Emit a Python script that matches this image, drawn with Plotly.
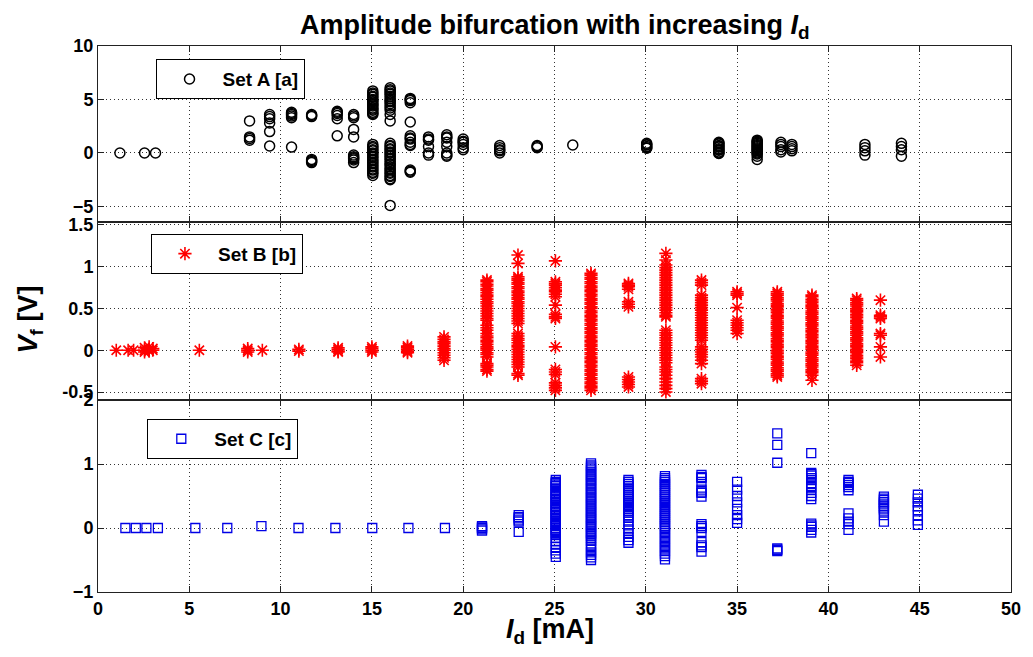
import plotly.graph_objects as go

# ---------------- data ----------------
# Set A : black open circles (top panel)
a_x = [1.2, 2.55, 3.15, 8.3, 9.4, 10.6, 11.7, 13.1, 14.0, 15.05, 16.0, 17.1,
       18.1, 19.1, 20.0, 22.0, 24.05, 26.0, 30.05, 34.0, 36.1, 37.4, 38.0, 42.0, 44.0]
a_y = [
    [0.0],
    [0.0],
    [0.0],
    [3.0, 1.5, 1.35, 1.2],
    [3.6, 3.4, 3.2, 2.8, 2.0, 0.65],
    [3.8, 3.7, 3.6, 3.45, 3.3, 0.55],
    [3.6, 3.5, 3.4, -0.6, -0.7, -0.8, -0.9],
    [3.9, 3.8, 3.7, 3.5, 3.2, 1.6],
    [3.6, 3.45, 3.3, 2.2, 1.5, -0.2, -0.35, -0.45, -0.55, -0.65, -0.9],
    [5.8, 5.6, 5.5, 5.3, 5.2, 5.0, 4.9, 4.8, 4.6, 4.5, 4.4, 4.2, 4.1, 4.0, 3.8, 3.7,
     3.6, 0.8, 0.6, 0.5, 0.3, 0.2, 0.0, -0.1, -0.3, -0.4, -0.6, -0.7, -0.9, -1.0,
     -1.2, -1.3, -1.5, -1.6, -1.8, -1.9, -2.1],
    [6.1, 5.9, 5.8, 5.6, 5.5, 5.3, 5.1, 4.9, 4.8, 4.6, 4.4, 4.2, 4.0, 3.6, 3.0, 0.9,
     0.7, 0.6, 0.4, 0.3, 0.1, 0.0, -0.2, -0.3, -0.5, -0.6, -0.8, -1.0, -1.1, -1.3,
     -1.5, -1.6, -1.8, -1.9, -2.1, -2.2, -2.4, -2.5, -4.9],
    [5.1, 5.0, 4.9, 4.7, 2.9, 1.6, 1.4, 1.3, 1.0, 0.8, 0.7, -1.6, -1.7, -1.8],
    [1.5, 1.3, 1.2, 0.6, 0.0, -0.2],
    [1.7, 1.5, 1.4, 1.0, 0.6, 0.0, -0.2, -0.3],
    [1.3, 1.1, 1.0, 0.8, 0.5, 0.3],
    [0.7, 0.5, 0.3, 0.2, 0.0],
    [0.7, 0.6, 0.5],
    [0.75],
    [0.9, 0.8, 0.75, 0.6, 0.5, 0.45],
    [1.0, 0.9, 0.85, 0.7, 0.6, 0.55, 0.4, 0.3, 0.25, 0.1, 0.0, -0.05],
    [1.2, 1.1, 1.0, 0.9, 0.8, 0.7, 0.6, 0.5, 0.4, 0.3, 0.2, 0.1, 0.0, -0.1, -0.3, -0.6],
    [1.0, 0.8, 0.6, 0.3, 0.1],
    [0.8, 0.6, 0.4, 0.2],
    [0.8, 0.5, 0.2, -0.2],
    [0.9, 0.6, 0.3, -0.3],
]

# Set B : red asterisks (middle panel)
b_x = [1.0, 1.65, 1.95, 2.55, 2.8, 3.0, 5.55, 8.2, 9.0, 11.0, 13.15, 15.0, 16.95,
       18.95, 21.3, 23.0, 25.05, 27.0, 29.05, 31.1, 33.05, 35.0, 37.2, 39.1, 41.55, 42.85]
b_y = [
    [0.0],
    [0.0],
    [0.0],
    [0.03, 0.0, -0.02],
    [0.04, 0.01, -0.01],
    [0.02, 0.0],
    [0.0],
    [0.02, 0.0, -0.02],
    [0.0],
    [0.01, -0.01],
    [0.03, 0.01, -0.01, -0.02],
    [0.04, 0.02, 0.0, -0.02],
    [0.05, 0.03, 0.01, -0.01, -0.03],
    [0.16, 0.13, 0.1, 0.08, 0.05, 0.02, 0.0, -0.03, -0.06, -0.09, -0.12],
    [0.84, 0.82, 0.79, 0.77, 0.74, 0.72, 0.69, 0.66, 0.64, 0.61, 0.58, 0.56, 0.53,
     0.5, 0.47, 0.44, 0.41, 0.38, 0.36, 0.3, 0.27, 0.24, 0.2, 0.17, 0.15, 0.12, 0.1,
     0.07, 0.04, 0.02, 0.0, -0.03, -0.05, -0.08, -0.16, -0.18, -0.2, -0.23, -0.25],
    [1.14, 1.04, 0.88, 0.86, 0.84, 0.81, 0.79, 0.76, 0.74, 0.71, 0.69, 0.66, 0.63,
     0.61, 0.58, 0.56, 0.53, 0.5, 0.47, 0.44, 0.41, 0.38, 0.35, 0.32, 0.2, 0.17, 0.14,
     0.12, 0.09, 0.06, 0.04, 0.01, -0.02, -0.05, -0.08, -0.11, -0.14, -0.17, -0.2,
     -0.28, -0.3],
    [1.07, 0.82, 0.8, 0.78, 0.75, 0.72, 0.7, 0.67, 0.64, 0.54, 0.43, 0.4, 0.38, 0.04,
     -0.23, -0.26, -0.29, -0.39, -0.42, -0.45, -0.48],
    [0.92, 0.9, 0.87, 0.85, 0.82, 0.8, 0.77, 0.75, 0.72, 0.7, 0.67, 0.65, 0.62, 0.6,
     0.57, 0.55, 0.52, 0.5, 0.47, 0.45, 0.42, 0.4, 0.37, 0.35, 0.32, 0.3, 0.27, 0.25,
     0.22, 0.2, 0.17, 0.15, 0.12, 0.1, 0.07, 0.05, 0.02, 0.0, -0.03, -0.05, -0.08,
     -0.1, -0.13, -0.15, -0.18, -0.2, -0.23, -0.25, -0.28, -0.3, -0.33, -0.35, -0.38,
     -0.4, -0.43, -0.45, -0.48],
    [0.8, 0.78, 0.76, 0.73, 0.58, 0.55, 0.52, -0.32, -0.35, -0.38, -0.41, -0.44],
    [1.16, 1.08, 1.02, 0.99, 0.96, 0.93, 0.9, 0.87, 0.84, 0.81, 0.78, 0.75, 0.72,
     0.69, 0.66, 0.63, 0.6, 0.57, 0.54, 0.51, 0.48, 0.45, 0.42, 0.4, 0.24, 0.21, 0.18,
     0.15, 0.12, 0.09, 0.06, 0.03, 0.0, -0.03, -0.06, -0.09, -0.12, -0.15, -0.2,
     -0.23, -0.26, -0.3, -0.34, -0.38, -0.42, -0.46, -0.5],
    [0.84, 0.81, 0.78, 0.66, 0.63, 0.6, 0.57, 0.54, 0.51, 0.48, 0.45, 0.42, 0.39,
     0.36, 0.33, 0.3, 0.27, 0.24, 0.21, 0.18, 0.15, 0.12, 0.04, 0.01, -0.02, -0.05,
     -0.08, -0.12, -0.16, -0.34, -0.37, -0.4],
    [0.7, 0.68, 0.66, 0.51, 0.36, 0.33, 0.3, 0.27, 0.24, 0.2],
    [0.7, 0.68, 0.66, 0.63, 0.61, 0.59, 0.56, 0.54, 0.52, 0.49, 0.47, 0.45, 0.42,
     0.4, 0.38, 0.35, 0.33, 0.31, 0.28, 0.26, 0.24, 0.21, 0.19, 0.17, 0.14, 0.12,
     0.1, 0.07, 0.05, 0.03, 0.0, -0.02, -0.04, -0.07, -0.09, -0.11, -0.14, -0.16,
     -0.18, -0.21, -0.23, -0.25, -0.28, -0.3, -0.32],
    [0.66, 0.64, 0.61, 0.59, 0.57, 0.54, 0.52, 0.5, 0.47, 0.45, 0.43, 0.4, 0.38,
     0.36, 0.33, 0.31, 0.29, 0.26, 0.24, 0.22, 0.19, 0.17, 0.15, 0.12, 0.1, 0.08,
     0.05, 0.03, 0.01, -0.02, -0.04, -0.06, -0.09, -0.11, -0.13, -0.16, -0.18, -0.2,
     -0.23, -0.25, -0.27, -0.3, -0.36],
    [0.62, 0.6, 0.57, 0.55, 0.53, 0.5, 0.48, 0.46, 0.43, 0.41, 0.39, 0.36, 0.34,
     0.32, 0.29, 0.27, 0.25, 0.22, 0.2, 0.18, 0.15, 0.13, 0.11, 0.08, 0.06, 0.04,
     0.01, -0.01, -0.03, -0.06, -0.08, -0.1, -0.13, -0.15, -0.18],
    [0.6, 0.42, 0.4, 0.38, 0.2, 0.18, 0.04, -0.08],
]

# Set C : blue open squares (bottom panel)
c_x = [1.5, 2.07, 2.65, 3.28, 5.33, 7.08, 8.95, 10.98, 13.0, 15.02, 17.0, 19.0,
       21.03, 23.04, 25.07, 27.0, 29.05, 31.05, 33.05, 35.0, 37.2, 39.06, 41.1, 43.04, 44.9]
c_y = [
    [0.0], [0.0], [0.0], [0.0], [0.0], [0.0], [0.03], [0.0], [0.0], [0.0], [0.0], [0.0],
    [0.03, 0.01, 0.0, -0.02, -0.04],
    [0.2, 0.17, 0.15, 0.12, 0.1, -0.06],
    [0.75, 0.72, 0.7, 0.68, 0.66, 0.63, 0.6, 0.58, 0.55, 0.53, 0.5, 0.48, 0.45, 0.43,
     0.4, 0.38, 0.35, 0.33, 0.3, 0.28, 0.25, 0.23, 0.2, 0.18, 0.15, 0.13, 0.1, 0.08,
     0.05, 0.03, 0.0, -0.03, -0.05, -0.08, -0.1, -0.15, -0.2, -0.25, -0.3, -0.35,
     -0.4, -0.45],
    [1.01, 0.98, 0.96, 0.93, 0.9, 0.87, 0.84, 0.82, 0.79, 0.76, 0.74, 0.71, 0.68,
     0.65, 0.62, 0.6, 0.57, 0.54, 0.51, 0.48, 0.46, 0.43, 0.4, 0.37, 0.35, 0.32, 0.29,
     0.26, 0.24, 0.21, 0.18, 0.15, 0.13, 0.1, 0.07, 0.04, 0.02, -0.01, -0.04, -0.07,
     -0.09, -0.12, -0.15, -0.18, -0.2, -0.26, -0.3, -0.34, -0.38, -0.42, -0.46, -0.5],
    [0.75, 0.72, 0.69, 0.66, 0.63, 0.6, 0.57, 0.54, 0.51, 0.48, 0.45, 0.42, 0.39,
     0.36, 0.33, 0.3, 0.27, 0.24, 0.2, 0.16, 0.1, 0.04, -0.02, -0.08, -0.14, -0.19,
     -0.23],
    [0.81, 0.78, 0.75, 0.72, 0.69, 0.66, 0.63, 0.6, 0.57, 0.54, 0.51, 0.48, 0.45,
     0.42, 0.39, 0.36, 0.33, 0.3, 0.27, 0.24, 0.21, 0.18, 0.15, 0.12, 0.09, 0.06,
     0.03, 0.0, -0.04, -0.08, -0.12, -0.16, -0.2, -0.24, -0.28, -0.32, -0.36, -0.4,
     -0.44, -0.49],
    [0.83, 0.8, 0.78, 0.72, 0.6, 0.57, 0.55, 0.49, 0.06, 0.03, 0.0, -0.06, -0.22,
     -0.27, -0.3, -0.37],
    [0.72, 0.6, 0.5, 0.4, 0.3, 0.2, 0.14, 0.08],
    [1.48, 1.3, 1.02, -0.32, -0.34, -0.36],
    [1.17, 0.86, 0.84, 0.82, 0.78, 0.75, 0.7, 0.66, 0.62, 0.55, 0.5, 0.45, 0.07, 0.04,
     0.02, -0.03, -0.07],
    [0.75, 0.72, 0.7, 0.67, 0.64, 0.59, 0.23, 0.15, 0.1, 0.06, -0.03],
    [0.49, 0.46, 0.44, 0.41, 0.38, 0.35, 0.32, 0.29, 0.26, 0.2, 0.1],
    [0.52, 0.46, 0.4, 0.34, 0.28, 0.2, 0.12, 0.05],
]

x_ticks = [0, 5, 10, 15, 20, 25, 30, 35, 40, 45, 50]


def flatten(xs, ys):
    fx, fy = [], []
    for xv, col in zip(xs, ys):
        for yv in col:
            fx.append(xv)
            fy.append(yv)
    return fx, fy


ax_x, ax_y = flatten(a_x, a_y)
bx_x, bx_y = flatten(b_x, b_y)
cx_x, cx_y = flatten(c_x, c_y)

FONT = "Arial, Liberation Sans, sans-serif"

fig = go.Figure()
fig.add_trace(go.Scatter(
    x=ax_x, y=ax_y, mode="markers", name="Set A [a]", xaxis="x", yaxis="y",
    marker=dict(symbol="circle-open", size=10, color="black", line=dict(width=1.5)),
    legend="legend"))
fig.add_trace(go.Scatter(
    x=bx_x, y=bx_y, mode="markers", name="Set B [b]", xaxis="x2", yaxis="y2",
    marker=dict(symbol="asterisk-open", size=11, color="#ff0000",
                line=dict(width=1.6, color="#ff0000")),
    legend="legend2"))
fig.add_trace(go.Scatter(
    x=cx_x, y=cx_y, mode="markers", name="Set C [c]", xaxis="x3", yaxis="y3",
    marker=dict(symbol="square-open", size=9, color="#0000e6", line=dict(width=1.3)),
    legend="legend3"))

axis_common = dict(
    showline=True, linecolor="#222", linewidth=1, mirror="ticks",
    ticks="inside", ticklen=6, tickcolor="#222",
    showgrid=True, gridcolor="#333", griddash="1px,3px", gridwidth=1,
    zeroline=False,
    tickfont=dict(family=FONT, size=18, color="black", weight="bold"),
)

xcommon = dict(axis_common, range=[0, 50], tickvals=x_ticks)

d_top = [0.6777, 1.0]
d_mid = [0.3516, 0.6777]
d_bot = [0.0, 0.3516]

legend_style = dict(
    bgcolor="white", bordercolor="black", borderwidth=1,
    font=dict(family=FONT, size=19, color="black", weight="bold"),
    itemwidth=56, xanchor="left", yanchor="top",
    tracegroupgap=0,
)

fig.update_layout(
    width=1033, height=657,
    paper_bgcolor="white", plot_bgcolor="white",
    margin=dict(l=98, r=15, t=46, b=65),
    title=dict(text="<b>Amplitude bifurcation with increasing <i>I</i><sub>d</sub></b>",
               x=0.537, xanchor="center", y=0.963, yanchor="middle",
               font=dict(family=FONT, size=27, color="black")),
    xaxis=dict(xcommon, anchor="y", showticklabels=False),
    xaxis2=dict(xcommon, anchor="y2", showticklabels=False, matches="x"),
    xaxis3=dict(xcommon, anchor="y3", matches="x"),
    yaxis=dict(axis_common, domain=d_top, range=[-6.45, 10], tickvals=[-5, 0, 5, 10],
               anchor="x"),
    yaxis2=dict(axis_common, domain=d_mid, range=[-0.596, 1.536],
                tickvals=[-0.5, 0, 0.5, 1, 1.5], ticktext=["-0.5", "0", "0.5", "1", "1.5"],
                anchor="x2"),
    yaxis3=dict(axis_common, domain=d_bot, range=[-1, 2], tickvals=[-1, 0, 1, 2],
                anchor="x3"),
    legend=dict(legend_style, x=0.063, y=0.976),
    legend2=dict(legend_style, x=0.058, y=0.656),
    legend3=dict(legend_style, x=0.054, y=0.317),
    showlegend=True,
    annotations=[
        dict(text="<b><i>V</i><sub>f</sub> [V]</b>", textangle=-90,
             xref="paper", yref="paper", x=-0.074, y=0.5, xanchor="center",
             yanchor="middle", showarrow=False,
             font=dict(family=FONT, size=27, color="black")),
        dict(text="<b><i>I</i><sub>d</sub> [mA]</b>",
             xref="paper", yref="paper", x=0.495, y=-0.072, xanchor="center",
             yanchor="middle", showarrow=False,
             font=dict(family=FONT, size=27, color="black")),
    ],
)

fig.write_html("out.html",
               config={"displayModeBar": False},
               post_script="document.body.style.margin='0px';"
                           "document.body.style.padding='0px';")
